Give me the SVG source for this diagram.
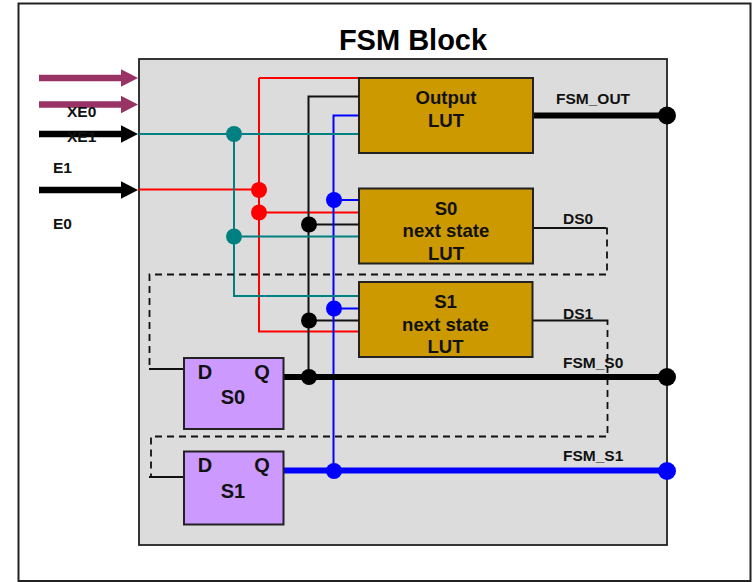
<svg xmlns="http://www.w3.org/2000/svg" width="753" height="582" viewBox="0 0 753 582">
<style>
text{font-family:"Liberation Sans",Arial,sans-serif;font-weight:bold;fill:#111}
.l{font-size:15.500px}.n{font-size:18.600px;text-anchor:middle}.c{font-size:20px;text-anchor:middle}
.w{fill:none;stroke-width:2}
.r{stroke:#f00}.k{stroke:#111}.u{stroke:#00f}.t{stroke:#008080}
.d{fill:none;stroke:#111;stroke-width:1.800;stroke-dasharray:7 5}
.lut{fill:#cc9900;stroke:#222;stroke-width:2}
.ff{fill:#cc99ff;stroke:#222;stroke-width:2}
</style>
<defs>
<marker id="ap" markerUnits="userSpaceOnUse" markerWidth="18" markerHeight="18" refX="17" refY="9" orient="auto"><path d="M0,0.300L17,9L0,17.700z" fill="#993366"/></marker>
<marker id="ak" markerUnits="userSpaceOnUse" markerWidth="18" markerHeight="18" refX="17" refY="9" orient="auto"><path d="M0,0.300L17,9L0,17.700z" fill="#000"/></marker>
</defs>
<path id="frame" d="M18.500,582V3.500H750.500V582M18,581H751" fill="none" stroke="#222" stroke-width="2"/>
<g id="block"><rect x="139" y="59" width="528" height="486" fill="#dcdcdc" stroke="#222" stroke-width="1.800"/></g>
<g id="connectors">
<path class="w r" d="M139,189.500H259M259,189.500V331.500H359M259,78H359M259,78V190M259,212.500H359"/>
<path class="w k" d="M359,96.500H308.500V377M309,224.500H359M303,320.500H359"/>
<path class="w u" d="M359,115.500H333.500V471M334,200H359M334,308.500H359"/>
<path class="w t" d="M139,134H359M234,134V296H359M234,236.500H359"/>
<path class="d" d="M606,228.500H607V274.500H149.500V369"/>
<path class="d" d="M605,320.500H607.500V436.500H151V477"/>
<path d="M533,228H606M532,320.500H605M149,369H184M149,477H184" fill="none" stroke="#111" stroke-width="1.800"/>
<path d="M533,115.500H667M284,377H667" fill="none" stroke="#000" stroke-width="6"/>
<path d="M284,470.500H667" fill="none" stroke="#00f" stroke-width="6"/>
<path d="M39,78H138" fill="none" stroke="#993366" stroke-width="6.500" stroke-dasharray="84 100" marker-end="url(#ap)"/>
<path d="M39,104.500H138" fill="none" stroke="#993366" stroke-width="6.500" stroke-dasharray="84 100" marker-end="url(#ap)"/>
<path d="M39,134H138" fill="none" stroke="#000" stroke-width="6.500" stroke-dasharray="84 100" marker-end="url(#ak)"/>
<path d="M39,190H138" fill="none" stroke="#000" stroke-width="6.500" stroke-dasharray="84 100" marker-end="url(#ak)"/>
<g id="dots">
<circle cx="234" cy="134" r="8" fill="#008080"/><circle cx="234" cy="236.500" r="8" fill="#008080"/>
<circle cx="259" cy="190" r="8" fill="#f00"/><circle cx="259" cy="212.500" r="8" fill="#f00"/>
<circle cx="334" cy="200" r="8" fill="#00f"/><circle cx="334" cy="308.500" r="8" fill="#00f"/><circle cx="334" cy="471" r="8" fill="#00f"/>
<circle cx="309" cy="224.500" r="8" fill="#000"/><circle cx="309" cy="320.500" r="8" fill="#000"/><circle cx="309" cy="377" r="8" fill="#000"/>
<circle cx="667" cy="115.500" r="9" fill="#000"/><circle cx="667" cy="377" r="9" fill="#000"/><circle cx="667" cy="471" r="9" fill="#00f"/>
</g>
</g>
<g id="out-lut"><rect class="lut" x="359" y="78" width="174" height="75"/><text class="n" x="446" y="104">Output</text><text class="n" x="446" y="127">LUT</text></g>
<g id="s0-lut"><rect class="lut" x="359" y="188.500" width="174" height="75"/><text class="n" x="446" y="215">S0</text><text class="n" x="446" y="237">next state</text><text class="n" x="446" y="260">LUT</text></g>
<g id="s1-lut"><rect class="lut" x="359" y="282" width="173.500" height="75"/><text class="n" x="445.500" y="308">S1</text><text class="n" x="445.500" y="331">next state</text><text class="n" x="445.500" y="353">LUT</text></g>
<g id="s0-ff"><rect class="ff" x="184" y="358" width="99.500" height="71"/><text class="c" x="205" y="379">D</text><text class="c" x="262" y="379">Q</text><text class="c" x="233" y="404">S0</text></g>
<g id="s1-ff"><rect class="ff" x="184" y="451.500" width="99.500" height="73"/><text class="c" x="205" y="472">D</text><text class="c" x="262" y="472">Q</text><text class="c" x="233" y="498">S1</text></g>
<g id="labels">
<text x="413" y="50" font-size="29" text-anchor="middle" style="fill:#000">FSM Block</text>
<text class="l" x="67" y="117">XE0</text><text class="l" x="67" y="142">XE1</text>
<text class="l" x="53" y="173">E1</text><text class="l" x="53" y="229">E0</text>
<text class="l" x="556" y="104">FSM_OUT</text><text class="l" x="563" y="224">DS0</text><text class="l" x="563" y="319">DS1</text>
<text class="l" x="563" y="368">FSM_S0</text><text class="l" x="563" y="461">FSM_S1</text>
</g>
</svg>
